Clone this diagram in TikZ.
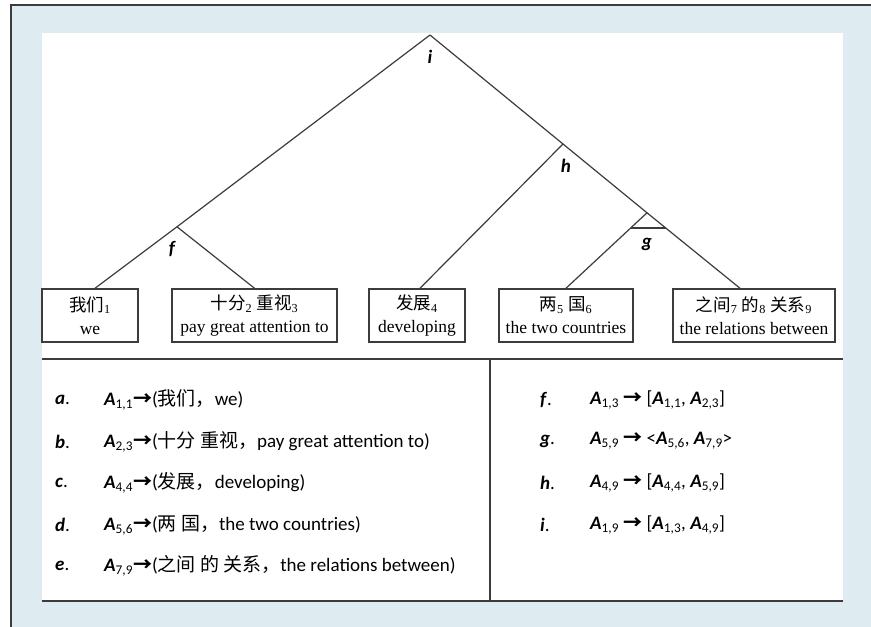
\documentclass[tikz,border=0pt]{standalone}
\usepackage{fontspec}
\setmainfont{Liberation Serif}
\newfontfamily\cali{Carlito}
\newfontfamily\cjk{Noto Sans CJK SC}
\definecolor{bgblue}{RGB}{222,235,241}
\definecolor{linegray}{RGB}{60,60,60}
\newcommand{\zh}[1]{{\cjk #1}}
\newcommand{\Abf}[1]{\textbf{\textit{A}}\textsubscript{#1}}
\newcommand{\arr}{{\cjk\bfseries →}}
\begin{document}
\begin{tikzpicture}[x=1pt,y=-1pt,
% common options for the word boxes:
wordbox/.style = {draw=linegray, line width=1.5pt, align=center, inner sep=0,
            minimum height=53pt, font=\fontsize{17.5}{23}\selectfont},
% common options for the tree lines:
branch/.style = {draw=linegray, line width=1.2pt},
% common options for the node letters:
tag/.style = {inner sep=0, font=\cali\bfseries\itshape\fontsize{19}{22}\selectfont},
% common options for the rule lines:
rule/.style = {anchor=west, inner sep=0, font=\cali\fontsize{19}{22}\selectfont}]
\useasboundingbox (0,0) rectangle (871,627);
% frame
\fill[bgblue] (11,6) rectangle (871,627);
\fill[white] (42,33) rectangle (843,601);
\draw[linegray, line width=2pt] (11,627) -- (11,5) -- (871,5);
\draw[linegray, line width=1.5pt] (42,359) -- (843,359);
\draw[linegray, line width=1.5pt] (490,359) -- (490,601);
\draw[linegray, line width=1.5pt] (42,601) -- (843,601);
% word boxes
\node[wordbox, minimum width=96pt] (w1) at (90,315.5) {\zh{我们}\textsubscript{1}\\we};
\node[wordbox, minimum width=165pt] (w2) at (254.5,315.5) {\zh{十分}\textsubscript{2} \zh{重视}\textsubscript{3}\\pay great attention to};
\node[wordbox, minimum width=96pt] (w3) at (417,315.5) {\zh{发展}\textsubscript{4}\\developing};
\node[wordbox, minimum width=134pt] (w4) at (566,315.5) {\zh{两}\textsubscript{5} \zh{国}\textsubscript{6}\\the two countries};
\node[wordbox, minimum width=162pt] (w5) at (754,315.5) {\zh{之间}\textsubscript{7} \zh{的}\textsubscript{8} \zh{关系}\textsubscript{9}\\the relations between};
% tree points
\coordinate (i) at (430,35);
\coordinate (f) at (177,226.8);
\coordinate (h) at (563,144);
\coordinate (g) at (647,212.8);
\coordinate (gl) at (631,228);
\coordinate (gr) at (665.5,228);
\draw[branch] (i) -- (f) -- ([xshift=5pt]w1.north);
\draw[branch] (f) -- (w2.north);
\draw[branch] (i) -- (h) -- (g) -- ([xshift=-14pt]w5.north);
\draw[branch] (h) -- ([xshift=3pt]w3.north);
\draw[branch] (g) -- (w4.north);
\draw[branch] (gl) -- (gr);
\node[tag] (ti) at (430,57) {i};
\node[tag] (tf) at (172,249) {f};
\node[tag] (th) at (566,166) {h};
\node[tag] (tg) at (647,244) {g};
% rules, left column
\node[rule] (la) at (55,400) {\textbf{\textit{a}}.};
\node[rule] (lb) at (55,442) {\textbf{\textit{b}}.};
\node[rule] (lc) at (55,483) {\textbf{\textit{c}}.};
\node[rule] (ld) at (55,525) {\textbf{\textit{d}}.};
\node[rule] (le) at (55,566) {\textbf{\textit{e}}.};
\node[rule] (ra) at (104,400) {\Abf{1,1}\arr(\zh{我们，}we)};
\node[rule] (rb) at (104,442) {\Abf{2,3}\arr(\zh{十分 重视，}pay great attention to)};
\node[rule] (rc) at (104,483) {\Abf{4,4}\arr(\zh{发展，}developing)};
\node[rule] (rd) at (104,525) {\Abf{5,6}\arr(\zh{两 国，}the two countries)};
\node[rule] (re) at (104,566) {\Abf{7,9}\arr(\zh{之间 的 关系，}the relations between)};
% rules, right column
\node[rule] (lf) at (540,400) {\textbf{\textit{f}}.};
\node[rule] (lg) at (540,441) {\textbf{\textit{g}}.};
\node[rule] (lh) at (540,483) {\textbf{\textit{h}}.};
\node[rule] (li) at (540,525) {\textbf{\textit{i}}.};
\node[rule] (rf) at (590,400) {\Abf{1,3} \arr{} [\Abf{1,1}, \Abf{2,3}]};
\node[rule] (rg) at (590,441) {\Abf{5,9} \arr{} <\Abf{5,6}, \Abf{7,9}>};
\node[rule] (rh) at (590,483) {\Abf{4,9} \arr{} [\Abf{4,4}, \Abf{5,9}]};
\node[rule] (ri) at (590,525) {\Abf{1,9} \arr{} [\Abf{1,3}, \Abf{4,9}]};
\end{tikzpicture}
\end{document}
